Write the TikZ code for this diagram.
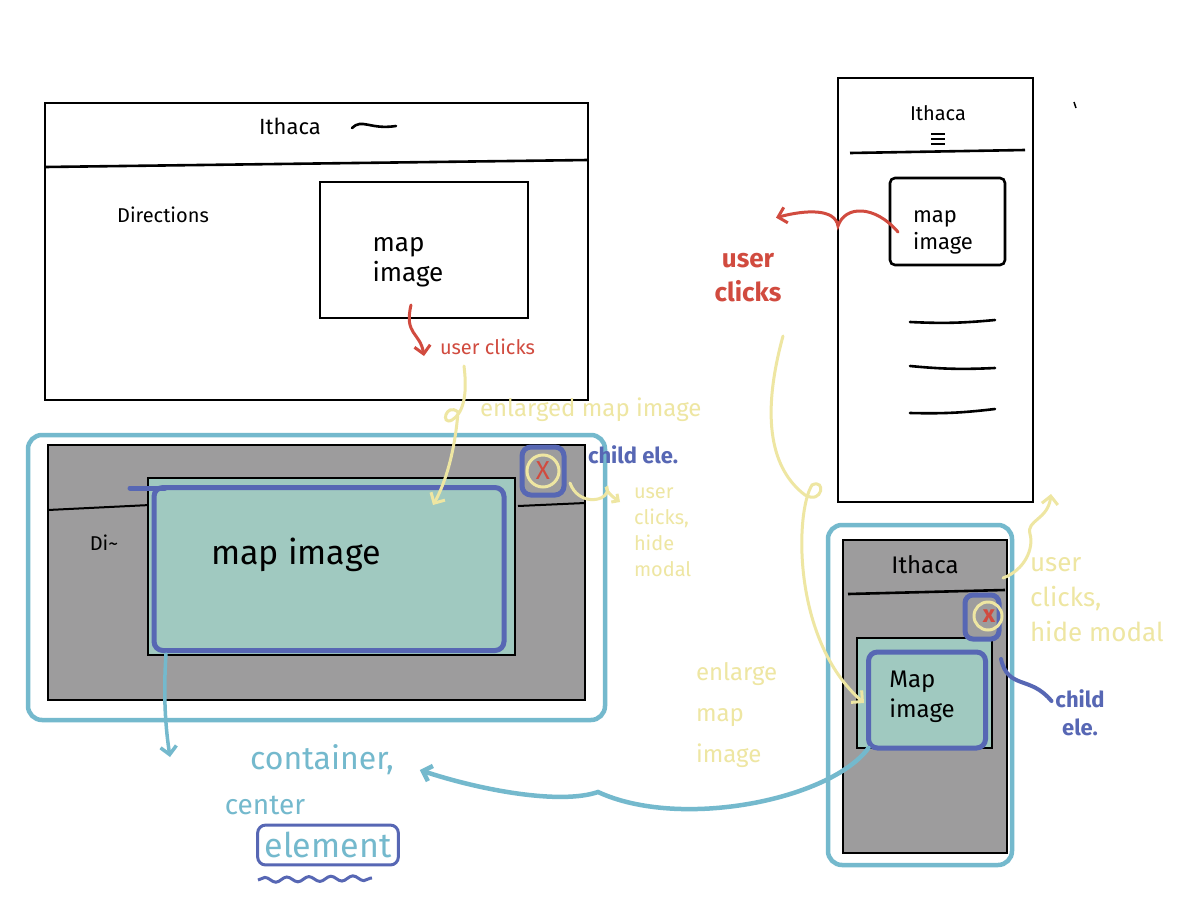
\documentclass[tikz,border=0pt]{standalone}
\usepackage{fontspec}
\setmainfont{Fira Sans}
\usetikzlibrary{calc,positioning,arrows.meta,decorations.pathmorphing}
\definecolor{inkred}{HTML}{D14B3F}
\definecolor{inkyellow}{HTML}{EEE6A2}
\definecolor{inkcyan}{HTML}{74B9CD}
\definecolor{inkblue}{HTML}{5767B4}
\definecolor{mapteal}{HTML}{A0C9C0}
\definecolor{modalgray}{HTML}{9D9C9D}
\newcommand{\hand}[2]{\fontsize{#1}{#2}\selectfont}

\begin{document}
\begin{tikzpicture}[x=1pt, y=-1pt,
    every node/.style={inner sep=0pt, outer sep=0pt},
    inkframe/.style={draw=black, line width=2.6pt},
    halo/.style={draw=inkcyan, line width=4.5pt, rounded corners=14pt},
    childbox/.style={draw=inkblue, line width=5pt, rounded corners=9pt},
    yel/.style={draw=inkyellow, line width=3pt, line cap=round},
    redink/.style={draw=inkred, line width=3pt, line cap=round},
    cyanink/.style={draw=inkcyan, line width=4.5pt, line cap=round},
    blueink/.style={draw=inkblue, line width=4pt, line cap=round},
    barb/.style={-{Straight Barb[length=8pt,width=16pt]}}
  ]
  \useasboundingbox (0,0) rectangle (1200,900);
  \fill[white] (0,0) rectangle (1200,900);

  % Desktop page
  \node[inkframe, minimum width=543pt, minimum height=297pt] (desk) at (316.5,251.5) {};
  \draw[inkframe] (45,167) -- (588,160);
  \node[font=\hand{22}{26}] (desktitle) at (290,126) {Ithaca};
  \draw[line width=2.6pt, line cap=round] (352,128) .. controls (362,118) and (370,130) .. (396,126);
  \node[font=\hand{20}{24}] (deskdir) at (163,215) {Directions};
  \node[inkframe, minimum width=208pt, minimum height=136pt] (deskmap) at (424,250) {};
  \node[font=\hand{26}{30}, align=left] (deskmaplbl) at (408,262) {map\\image};
  \coordinate (deskdot) at (411,305);
  \node[font=\hand{20}{24}, text=inkred, anchor=west] (deskclick) at (440,347) {user clicks};
  \draw[redink, barb] (deskdot) .. controls (404,335) and (420,332) .. ($(deskclick.west)+(-16,9)$);

  % Desktop modal
  \node[halo, minimum width=577pt, minimum height=285pt] (deskhalo) at (316.5,577.5) {};
  \node[inkframe, fill=modalgray, minimum width=537pt, minimum height=255pt] (deskmodal) at (316.5,572.5) {};
  \draw[line width=2pt] (48,510) -- (150,505);
  \draw[line width=2pt] (518,506) -- (585,503);
  \node[font=\hand{20}{24}] (deskdi) at (104,543) {Di\textasciitilde};
  \node[inkframe, fill=mapteal, minimum width=367pt, minimum height=177pt] (deskmapbig) at (331.5,566.5) {};
  \node[childbox, minimum width=350pt, minimum height=163pt] (deskmapblue) at (329,569) {};
  \draw[blueink, line width=5pt] (130,488) -- (165,488);
  \node[font=\hand{34}{40}] (deskmaptext) at (296,555) {map image};
  \node[childbox, fill=modalgray, minimum width=42pt, minimum height=48pt] (deskclose) at (543,471) {};
  \draw[yel] (deskclose.center) circle (16pt);
  \node[font=\hand{26}{28}, text=inkred] (deskx) at (deskclose) {X};
  \node[font=\bfseries\hand{22}{26}, text=inkblue, anchor=west] (deskchild) at (588,455) {child ele.};
  \node[font=\hand{20}{26}, text=inkyellow, align=left, anchor=north west] (deskhide) at (634,488) {user\\clicks,\\hide\\modal};
  \draw[yel, -{Straight Barb[length=5pt,width=10pt]}] ($(deskclose.south east)+(6,-12)$) .. controls (578,505) and (604,502) .. (607,492)
    .. controls (609,483) and (600,488) .. ($(deskhide.north west)+(-14,14)$);
  \draw[cyanink, line width=3.5pt, barb] (166,654) .. controls (163,700) and (166,730) .. (170,757);

  % Yellow note: enlarged map
  \node[font=\hand{24}{28}, text=inkyellow, anchor=west] (deskbig) at (480,410) {enlarged map image};
  \coordinate (bigstart) at (464,366);
  \coordinate (bigend) at (433,505);
  \draw[yel, barb] (bigstart) .. controls (468,398) and (462,414) .. (452,420)
    .. controls (440,426) and (446,402) .. (458,412) .. controls (455,450) and (446,482) .. (bigend);

  % Mobile page
  \node[inkframe, minimum width=195pt, minimum height=424pt] (mob) at (935.5,290) {};
  \draw[inkframe] (850,153) -- (1025,150);
  \node[font=\hand{20}{24}] (mobtitle) at (938,113) {Ithaca};
  \foreach \yy in {134,139,144}
    \draw[line width=1.6pt] (931,\yy) -- (945,\yy);
  \node[inkframe, rounded corners=5pt, minimum width=115pt, minimum height=87pt] (mobmap) at (947.5,221.5) {};
  \node[font=\hand{22}{27}, align=left] (mobmaplbl) at (943,232) {map\\image};
  \foreach \ya/\yb in {322/320, 366/368, 413/409}
    \draw[line width=2.6pt, line cap=round] (910,\ya) to[bend right=4] (995,\yb);
  \draw[line width=1.5pt] (1074,102) -- (1076,108);
  \coordinate (mobdot) at (898,232);
  \node[font=\bfseries\hand{26}{34}, text=inkred, align=center] (mobclick) at (748,278) {user\\clicks};
  \draw[redink, barb] (mobdot) .. controls (875,205) and (845,205) .. (838,226)
    .. controls (835,208) and (805,210) .. ($(mobclick.north)+(28,-36)$);

  % Mobile modal
  \node[halo, minimum width=184pt, minimum height=340pt] (mobhalo) at (920,695) {};
  \node[inkframe, fill=modalgray, minimum width=164pt, minimum height=313pt] (mobmodal) at (925,696.5) {};
  \draw[inkframe] (848,594) -- (1005,590);
  \node[font=\hand{24}{28}] (mobmodaltitle) at (925,565) {Ithaca};
  \node[inkframe, fill=mapteal, minimum width=135pt, minimum height=110pt] (mobmapbig) at (924.5,693) {};
  \node[childbox, minimum width=117pt, minimum height=96pt] (mobmapblue) at (927,700) {};
  \node[font=\hand{24}{30}, align=left] (mobmaptext) at (922,697) {Map\\image};
  \node[childbox, fill=modalgray, minimum width=34pt, minimum height=44pt, rounded corners=8pt] (mobclose) at (982,617) {};
  \draw[yel] (988,616) circle (14pt);
  \node[font=\bfseries\hand{24}{26}, text=inkred] (mobx) at (989,616) {x};
  \node[font=\bfseries\hand{22}{28}, text=inkblue, align=center] (mobchild) at (1080,713) {child\\ele.};
  \draw[blueink] ($(mobclose.south east)+(2,20)$) .. controls (1008,690) and (1030,675) .. ($(mobchild.west)+(-4,-12)$);
  \node[font=\hand{26}{35}, text=inkyellow, align=left, anchor=north west] (mobhide) at (1030,557) {user\\clicks,\\hide modal};
  \coordinate (mobhidestart) at (1003,578);
  \draw[yel, barb] (mobhidestart) .. controls (1025,570) and (1034,548) .. (1030,534)
    .. controls (1026,520) and (1048,520) .. ($(mob.south east)+(18,-8)$);

  % Yellow note: enlarge on mobile
  \coordinate (ystart) at (783,336);
  \coordinate (mobmapin) at (864,703);
  \draw[yel, barb] (ystart) .. controls (760,420) and (772,470) .. (805,495)
    .. controls (823,505) and (826,478) .. (812,485) .. controls (795,512) and (792,640) .. (mobmapin);
  \node[font=\hand{24}{41}, text=inkyellow, align=left, anchor=north west] (mobbig) at (696,662) {enlarge\\map\\image};

  % Bottom note
  \node[font=\hand{32}{36}, text=inkcyan] (container) at (322,760) {container,};
  \node[font=\hand{28}{32}, text=inkcyan] (ctrtxt) at (265,805) {center};
  \node[font=\hand{34}{38}, text=inkcyan, draw=inkblue, line width=3pt, rounded corners=8pt, inner sep=7pt] (elem) at (328,845) {element};
  \draw[inkblue, line width=3pt, decorate, decoration={snake, amplitude=2.5pt, segment length=22pt}] (258,880) -- (372,878);
  \draw[cyanink, barb] (mobmapblue.south west) .. controls (830,800) and (680,830) .. (598,792)
    .. controls (560,805) and (480,790) .. ($(container.east)+(26,10)$);
\end{tikzpicture}
\end{document}
